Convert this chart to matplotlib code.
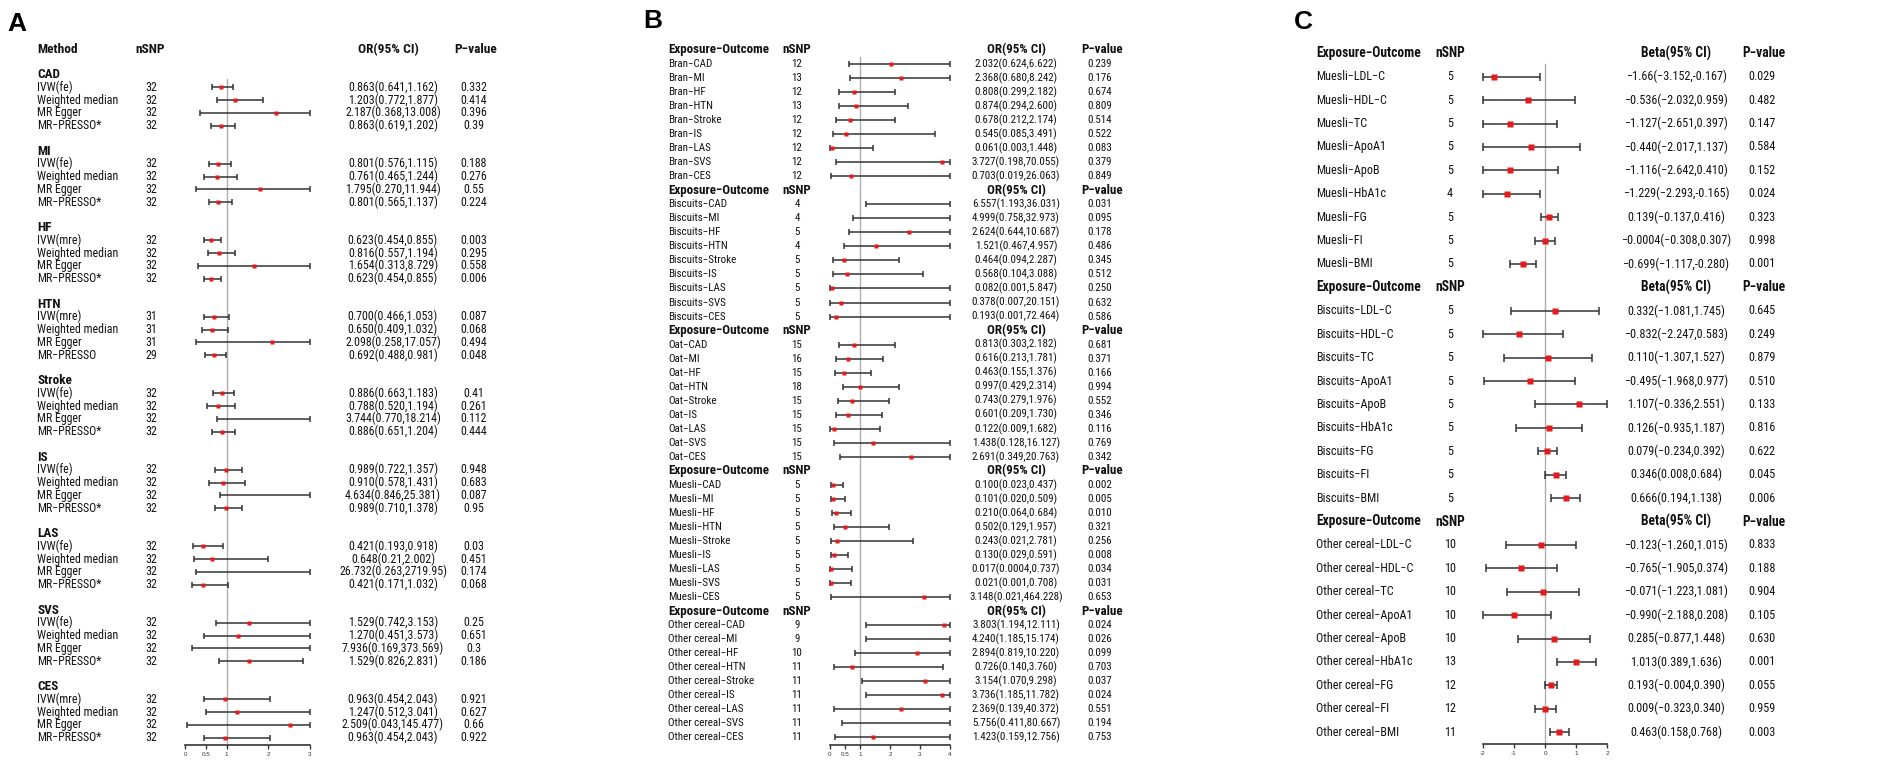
import os
import re
import matplotlib
matplotlib.use('Agg')
import matplotlib.pyplot as plt
import matplotlib.transforms as mtransforms
from matplotlib import font_manager
from matplotlib.font_manager import FontProperties
from matplotlib.textpath import TextPath

# ---------------- data ----------------
# Panel A: MR methods per outcome
a_outcomes = ['CAD', 'MI', 'HF', 'HTN', 'Stroke', 'IS', 'LAS', 'SVS', 'CES']
a_methods = ['IVW(fe)', 'Weighted median', 'MR Egger', 'MR−PRESSO*',
             'IVW(fe)', 'Weighted median', 'MR Egger', 'MR−PRESSO*',
             'IVW(mre)', 'Weighted median', 'MR Egger', 'MR−PRESSO*',
             'IVW(mre)', 'Weighted median', 'MR Egger', 'MR−PRESSO',
             'IVW(fe)', 'Weighted median', 'MR Egger', 'MR−PRESSO*',
             'IVW(fe)', 'Weighted median', 'MR Egger', 'MR−PRESSO*',
             'IVW(fe)', 'Weighted median', 'MR Egger', 'MR−PRESSO*',
             'IVW(fe)', 'Weighted median', 'MR Egger', 'MR−PRESSO*',
             'IVW(mre)', 'Weighted median', 'MR Egger', 'MR−PRESSO*']
a_nsnp = [32, 32, 32, 32, 32, 32, 32, 32, 32, 32, 32, 32,
          31, 31, 31, 29, 32, 32, 32, 32, 32, 32, 32, 32,
          32, 32, 32, 32, 32, 32, 32, 32, 32, 32, 32, 32]
a_or = ['0.863(0.641,1.162)', '1.203(0.772,1.877)', '2.187(0.368,13.008)', '0.863(0.619,1.202)',
        '0.801(0.576,1.115)', '0.761(0.465,1.244)', '1.795(0.270,11.944)', '0.801(0.565,1.137)',
        '0.623(0.454,0.855)', '0.816(0.557,1.194)', '1.654(0.313,8.729)', '0.623(0.454,0.855)',
        '0.700(0.466,1.053)', '0.650(0.409,1.032)', '2.098(0.258,17.057)', '0.692(0.488,0.981)',
        '0.886(0.663,1.183)', '0.788(0.520,1.194)', '3.744(0.770,18.214)', '0.886(0.651,1.204)',
        '0.989(0.722,1.357)', '0.910(0.578,1.431)', '4.634(0.846,25.381)', '0.989(0.710,1.378)',
        '0.421(0.193,0.918)', '0.648(0.21,2.002)', '26.732(0.263,2719.95)', '0.421(0.171,1.032)',
        '1.529(0.742,3.153)', '1.270(0.451,3.573)', '7.936(0.169,373.569)', '1.529(0.826,2.831)',
        '0.963(0.454,2.043)', '1.247(0.512,3.041)', '2.509(0.043,145.477)', '0.963(0.454,2.043)']
a_p = ['0.332', '0.414', '0.396', '0.39', '0.188', '0.276', '0.55', '0.224',
       '0.003', '0.295', '0.558', '0.006', '0.087', '0.068', '0.494', '0.048',
       '0.41', '0.261', '0.112', '0.444', '0.948', '0.683', '0.087', '0.95',
       '0.03', '0.451', '0.174', '0.068', '0.25', '0.651', '0.3', '0.186',
       '0.921', '0.627', '0.66', '0.922']

# Panel B: cereal types -> CVD outcomes
b_exposures = ['Bran', 'Biscuits', 'Oat', 'Muesli', 'Other cereal']
b_outcomes = ['CAD', 'MI', 'HF', 'HTN', 'Stroke', 'IS', 'LAS', 'SVS', 'CES']
b_nsnp = [12, 13, 12, 13, 12, 12, 12, 12, 12,
          4, 4, 5, 4, 5, 5, 5, 5, 5,
          15, 16, 15, 18, 15, 15, 15, 15, 15,
          5, 5, 5, 5, 5, 5, 5, 5, 5,
          9, 9, 10, 11, 11, 11, 11, 11, 11]
b_or = ['2.032(0.624,6.622)', '2.368(0.680,8.242)', '0.808(0.299,2.182)', '0.874(0.294,2.600)',
        '0.678(0.212,2.174)', '0.545(0.085,3.491)', '0.061(0.003,1.448)', '3.727(0.198,70.055)',
        '0.703(0.019,26.063)',
        '6.557(1.193,36.031)', '4.999(0.758,32.973)', '2.624(0.644,10.687)', '1.521(0.467,4.957)',
        '0.464(0.094,2.287)', '0.568(0.104,3.088)', '0.082(0.001,5.847)', '0.378(0.007,20.151)',
        '0.193(0.001,72.464)',
        '0.813(0.303,2.182)', '0.616(0.213,1.781)', '0.463(0.155,1.376)', '0.997(0.429,2.314)',
        '0.743(0.279,1.976)', '0.601(0.209,1.730)', '0.122(0.009,1.682)', '1.438(0.128,16.127)',
        '2.691(0.349,20.763)',
        '0.100(0.023,0.437)', '0.101(0.020,0.509)', '0.210(0.064,0.684)', '0.502(0.129,1.957)',
        '0.243(0.021,2.781)', '0.130(0.029,0.591)', '0.017(0.0004,0.737)', '0.021(0.001,0.708)',
        '3.148(0.021,464.228)',
        '3.803(1.194,12.111)', '4.240(1.185,15.174)', '2.894(0.819,10.220)', '0.726(0.140,3.760)',
        '3.154(1.070,9.298)', '3.736(1.185,11.782)', '2.369(0.139,40.372)', '5.756(0.411,80.667)',
        '1.423(0.159,12.756)']
b_p = ['0.239', '0.176', '0.674', '0.809', '0.514', '0.522', '0.083', '0.379', '0.849',
       '0.031', '0.095', '0.178', '0.486', '0.345', '0.512', '0.250', '0.632', '0.586',
       '0.681', '0.371', '0.166', '0.994', '0.552', '0.346', '0.116', '0.769', '0.342',
       '0.002', '0.005', '0.010', '0.321', '0.256', '0.008', '0.034', '0.031', '0.653',
       '0.024', '0.026', '0.099', '0.703', '0.037', '0.024', '0.551', '0.194', '0.753']

# Panel C: cereal types -> metabolic traits
c_exposures = ['Muesli', 'Biscuits', 'Other cereal']
c_outcomes = ['LDL−C', 'HDL−C', 'TC', 'ApoA1', 'ApoB', 'HbA1c', 'FG', 'FI', 'BMI']
c_nsnp = [5, 5, 5, 5, 5, 4, 5, 5, 5,
          5, 5, 5, 5, 5, 5, 5, 5, 5,
          10, 10, 10, 10, 10, 13, 12, 12, 11]
c_beta = ['−1.66(−3.152,-0.167)', '−0.536(−2.032,0.959)', '−1.127(−2.651,0.397)',
          '−0.440(−2.017,1.137)', '−1.116(−2.642,0.410)', '−1.229(−2.293,-0.165)',
          '0.139(−0.137,0.416)', '−0.0004(−0.308,0.307)', '−0.699(−1.117,-0.280)',
          '0.332(−1.081,1.745)', '−0.832(−2.247,0.583)', '0.110(−1.307,1.527)',
          '−0.495(−1.968,0.977)', '1.107(−0.336,2.551)', '0.126(−0.935,1.187)',
          '0.079(−0.234,0.392)', '0.346(0.008,0.684)', '0.666(0.194,1.138)',
          '−0.123(−1.260,1.015)', '−0.765(−1.905,0.374)', '−0.071(−1.223,1.081)',
          '−0.990(−2.188,0.208)', '0.285(−0.877,1.448)', '1.013(0.389,1.636)',
          '0.193(−0.004,0.390)', '0.009(−0.323,0.340)', '0.463(0.158,0.768)']
c_p = ['0.029', '0.482', '0.147', '0.584', '0.152', '0.024', '0.323', '0.998', '0.001',
       '0.645', '0.249', '0.879', '0.510', '0.133', '0.816', '0.622', '0.045', '0.006',
       '0.833', '0.188', '0.904', '0.105', '0.630', '0.001', '0.055', '0.959', '0.003']

# ---------------- fonts ----------------
W, H = 1902, 767
files = {os.path.basename(f.fname).lower(): f.fname for f in font_manager.fontManager.ttflist}
pairs = [('liberationsansnarrow-regular.ttf', 'liberationsansnarrow-bold.ttf'),
         ('robotocondensed-regular.ttf', 'robotocondensed-bold.ttf'),
         ('notosans-condensed.ttf', 'notosans-condensedbold.ttf'),
         ('dejavusanscondensed.ttf', 'dejavusanscondensed-bold.ttf'),
         ('liberationsans-regular.ttf', 'liberationsans-bold.ttf')]
REG = BOLD = None
for r, b in pairs:
    if r in files and b in files:
        REG, BOLD = files[r], files[b]
        break


def fprop(bold, size):
    if REG is None:
        return FontProperties(family='Liberation Sans', weight='bold' if bold else 'normal', size=size)
    return FontProperties(fname=BOLD if bold else REG, size=size)


def fit(text, px, bold=False):
    # font size (pt) that makes `text` span `px` pixels at dpi 100
    w = TextPath((0, 0), text, size=10, prop=fprop(bold, 10)).get_extents().width
    return 10 * px / (w * 100 / 72)


RED = '#e41a1c'
LINE = '#333333'

fig = plt.figure(figsize=(W / 100, H / 100), dpi=100)
fig.patch.set_facecolor('white')


def parse(s):
    return [float(v.replace('−', '-')) for v in re.findall(r'[−-]?\d+\.?\d*', s)]


def make_axes(x0, x1, xlim, row0, step, axis_px, ticks, labels):
    top = -3
    top_px = row0 + top * step
    ax = fig.add_axes([x0 / W, 1 - axis_px / H, (x1 - x0) / W, (axis_px - top_px) / H])
    ax.set_xlim(xlim)
    ax.set_ylim((axis_px - row0) / step, top)
    for s in ['top', 'right', 'left']:
        ax.spines[s].set_visible(False)
    ax.spines['bottom'].set_linewidth(1.2)
    ax.spines['bottom'].set_color(LINE)
    ax.set_yticks([])
    ax.set_xticks(ticks)
    ax.set_xticklabels(labels, fontsize=4.5, family='Liberation Sans')
    ax.tick_params(axis='x', length=3, width=1, pad=2, colors=LINE)
    ax.patch.set_visible(False)
    return ax


def forest(ax, rows, texts, lim, ms, cap, lw):
    for r, s in zip(rows, texts):
        e, lo, hi = parse(s)
        lc, hc = max(lo, lim[0]), min(hi, lim[1])
        ax.plot([lc, hc], [r, r], color=LINE, lw=lw, marker='|', ms=cap, mew=lw,
                clip_on=False, solid_capstyle='butt')
        if lim[0] <= e <= lim[1]:
            ax.plot([e], [r], 's', color=RED, ms=ms, mec='none', clip_on=False, zorder=3)


def put(ax, px, row, s, size, ha='left', bold=False):
    tr = mtransforms.blended_transform_factory(fig.transFigure, ax.transData)
    ax.text(px / W, row, s, transform=tr, ha=ha, va='center',
            fontproperties=fprop(bold, size), clip_on=False, color='#111111')


# panel letters
for lbl, x, y in [('A', 17, 24), ('B', 653, 21), ('C', 1303, 22)]:
    fig.text(x / W, 1 - y / H, lbl, ha='center', va='center', fontsize=19,
             fontweight='bold', family='Liberation Sans')

# ---------------- panel A ----------------
a_fs = fit('Weighted median', 80)
a_fh = fit('Method', 39, True)
a_fg = fit('Stroke', 34, True)
a_row0, a_step = 74.55, 12.75
axA = make_axes(185, 310, (0, 3), a_row0, a_step, 745, [0, 0.5, 1, 2, 3], ['0', '0.5', '1', '2', '3'])
hdr = (49.3 - a_row0) / a_step
put(axA, 37, hdr, 'Method', a_fh, bold=True)
put(axA, 150, hdr, 'nSNP', a_fh, ha='center', bold=True)
put(axA, 388, hdr, 'OR(95% CI)', a_fh, ha='center', bold=True)
put(axA, 476, hdr, 'P−value', a_fh, ha='center', bold=True)
a_rows = []
for g, name in enumerate(a_outcomes):
    put(axA, 37, 6 * g, name, a_fg, bold=True)
    a_rows += [6 * g + i for i in range(1, 5)]
for r, m, n, o, p in zip(a_rows, a_methods, a_nsnp, a_or, a_p):
    put(axA, 37, r, m, a_fs)
    put(axA, 151, r, str(n), a_fs, ha='center')
    put(axA, 393, r, o, a_fs, ha='center')
    put(axA, 474, r, p, a_fs, ha='center')
axA.plot([1, 1], [0.35, axA.get_ylim()[0]], color='#b0b0b0', lw=1, zorder=0, clip_on=False)
forest(axA, a_rows, a_or, (0, 3), 3.2, 4, 1.1)

# ---------------- panel B ----------------
b_fs = fit('Biscuits−Stroke', 67)
b_fh = fit('Exposure−Outcome', 100, True)
b_row0, b_step = 49.97, 14.03
axB = make_axes(830, 950, (0, 4), b_row0, b_step, 745, [0, 0.5, 1, 2, 3, 4],
                ['0', '0.5', '1', '2', '3', '4'])
b_rows, b_labels = [], []
for k, ex in enumerate(b_exposures):
    r0 = 10 * k
    put(axB, 668, r0, 'Exposure−Outcome', b_fh, bold=True)
    put(axB, 797, r0, 'nSNP', b_fh, ha='center', bold=True)
    put(axB, 1016, r0, 'OR(95% CI)', b_fh, ha='center', bold=True)
    put(axB, 1102, r0, 'P−value', b_fh, ha='center', bold=True)
    for i, oc in enumerate(b_outcomes):
        b_rows.append(r0 + 1 + i)
        b_labels.append(ex + '−' + oc)
for r, lab, n, o, p in zip(b_rows, b_labels, b_nsnp, b_or, b_p):
    put(axB, 668, r, lab, b_fs)
    put(axB, 797, r, str(n), b_fs, ha='center')
    put(axB, 1016, r, o, b_fs, ha='center')
    put(axB, 1100, r, p, b_fs, ha='center')
axB.plot([1, 1], [0.5, axB.get_ylim()[0]], color='#b0b0b0', lw=1, zorder=0, clip_on=False)
forest(axB, b_rows, b_or, (0, 4), 3.4, 4.5, 1.1)

# ---------------- panel C ----------------
c_fs = fit('Muesli−LDL−C', 68)
c_fh = fit('Exposure−Outcome', 104, True)
c_row0, c_step = 53.3, 23.41
axC = make_axes(1483, 1607, (-2, 2), c_row0, c_step, 744.3, [-2, -1, 0, 1, 2],
                ['-2', '-1', '0', '1', '2'])
c_rows, c_labels = [], []
for k, ex in enumerate(c_exposures):
    r0 = 10 * k
    put(axC, 1316, r0, 'Exposure−Outcome', c_fh, bold=True)
    put(axC, 1450, r0, 'nSNP', c_fh, ha='center', bold=True)
    put(axC, 1676, r0, 'Beta(95% CI)', c_fh, ha='center', bold=True)
    put(axC, 1764, r0, 'P−value', c_fh, ha='center', bold=True)
    for i, oc in enumerate(c_outcomes):
        c_rows.append(r0 + 1 + i)
        c_labels.append(ex + '−' + oc)
for r, lab, n, o, p in zip(c_rows, c_labels, c_nsnp, c_beta, c_p):
    put(axC, 1316, r, lab, c_fs)
    put(axC, 1450, r, str(n), c_fs, ha='center')
    put(axC, 1676, r, o, c_fs, ha='center')
    put(axC, 1762, r, p, c_fs, ha='center')
axC.plot([0, 0], [0.46, axC.get_ylim()[0]], color='#b0b0b0', lw=1, zorder=0, clip_on=False)
forest(axC, c_rows, c_beta, (-2, 2), 4.3, 6, 1.1)

fig.savefig('out.png', dpi=100, facecolor='white')
